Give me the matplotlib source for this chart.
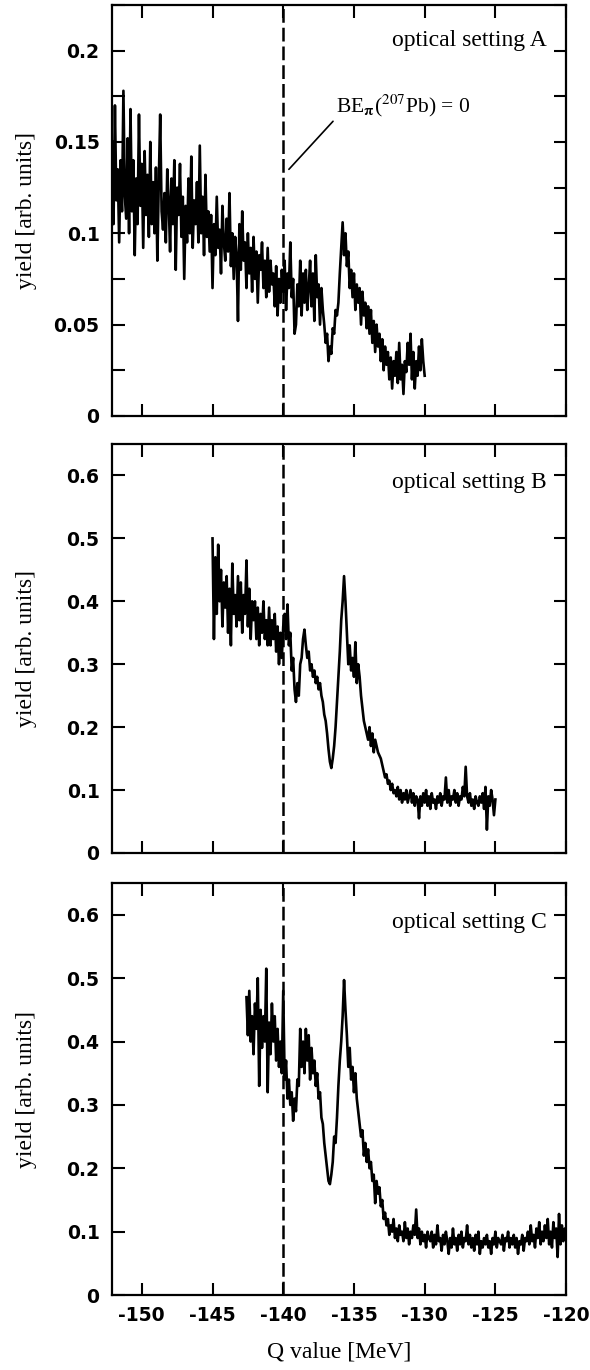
import numpy as np
import matplotlib.pyplot as plt
from matplotlib.ticker import MultipleLocator, FormatStrFormatter

# binned spectra, Q value step 0.1 MeV
q_step = 0.1

q_start_a = -152.1
yield_a = [
    0.150, 0.105, 0.170, 0.118, 0.135, 0.095, 0.140, 0.112, 0.178, 0.120,
    0.108, 0.152, 0.100, 0.168, 0.112, 0.140, 0.088, 0.130, 0.105, 0.165,
    0.115, 0.138, 0.092, 0.145, 0.110, 0.132, 0.098, 0.150, 0.105, 0.128,
    0.100, 0.136, 0.085, 0.128, 0.165, 0.112, 0.102, 0.122, 0.095, 0.135,
    0.118, 0.090, 0.130, 0.105, 0.140, 0.080, 0.125, 0.110, 0.138, 0.098,
    0.120, 0.075, 0.115, 0.095, 0.130, 0.100, 0.142, 0.092, 0.118, 0.105,
    0.128, 0.095, 0.148, 0.100, 0.120, 0.088, 0.132, 0.098, 0.112, 0.090,
    0.110, 0.070, 0.105, 0.088, 0.120, 0.092, 0.102, 0.078, 0.115, 0.095,
    0.085, 0.108, 0.090, 0.122, 0.082, 0.100, 0.075, 0.098, 0.088, 0.052,
    0.105, 0.080, 0.112, 0.085, 0.095, 0.070, 0.100, 0.078, 0.092, 0.068,
    0.098, 0.075, 0.090, 0.062, 0.088, 0.080, 0.095, 0.070, 0.085, 0.065,
    0.092, 0.068, 0.085, 0.072, 0.078, 0.060, 0.082, 0.055, 0.075, 0.062,
    0.080, 0.068, 0.085, 0.058, 0.078, 0.070, 0.095, 0.065, 0.075, 0.045,
    0.050, 0.072, 0.060, 0.085, 0.055, 0.078, 0.062, 0.080, 0.058, 0.070,
    0.085, 0.060, 0.078, 0.052, 0.088, 0.065, 0.072, 0.050, 0.070, 0.058,
    0.050, 0.040, 0.045, 0.030, 0.038, 0.034, 0.048, 0.045, 0.058, 0.055,
    0.062, 0.078, 0.092, 0.106, 0.088, 0.100, 0.082, 0.090, 0.070, 0.080,
    0.065, 0.078, 0.058, 0.072, 0.062, 0.070, 0.050, 0.068, 0.055, 0.062,
    0.048, 0.060, 0.045, 0.058, 0.040, 0.052, 0.035, 0.050, 0.038, 0.045,
    0.030, 0.042, 0.025, 0.038, 0.028, 0.035, 0.020, 0.032, 0.015, 0.030,
    0.022, 0.035, 0.018, 0.040, 0.020, 0.028, 0.012, 0.030, 0.024, 0.040,
    0.028, 0.045, 0.020, 0.035, 0.015, 0.030, 0.022, 0.038, 0.025, 0.042,
    0.030, 0.022,
]

q_start_b = -145.0
yield_b = [
    0.50, 0.34, 0.47, 0.38, 0.49, 0.40, 0.45, 0.36, 0.43, 0.39,
    0.44, 0.35, 0.42, 0.33, 0.46, 0.38, 0.41, 0.36, 0.44, 0.37,
    0.43, 0.35, 0.41, 0.38, 0.465, 0.36, 0.42, 0.34, 0.40, 0.37,
    0.40, 0.34, 0.39, 0.33, 0.38, 0.35, 0.40, 0.34, 0.37, 0.33,
    0.39, 0.33, 0.37, 0.34, 0.38, 0.32, 0.36, 0.30, 0.35, 0.31,
    0.36, 0.38, 0.34, 0.395, 0.33, 0.35, 0.29, 0.31, 0.26, 0.24,
    0.27, 0.25, 0.30, 0.31, 0.34, 0.355, 0.33, 0.31, 0.32, 0.29,
    0.30, 0.28, 0.29, 0.27, 0.28, 0.26, 0.27, 0.25, 0.24, 0.22,
    0.21, 0.19, 0.165, 0.145, 0.135, 0.15, 0.17, 0.20, 0.24, 0.28,
    0.32, 0.37, 0.40, 0.44, 0.40, 0.35, 0.30, 0.33, 0.29, 0.31,
    0.28, 0.335, 0.27, 0.30, 0.28, 0.25, 0.23, 0.21, 0.20, 0.19,
    0.18, 0.20, 0.17, 0.19, 0.16, 0.18, 0.17, 0.16, 0.155, 0.15,
    0.14, 0.13, 0.12, 0.125, 0.11, 0.115, 0.10, 0.11, 0.095, 0.10,
    0.09, 0.105, 0.085, 0.10, 0.08, 0.095, 0.085, 0.10, 0.08, 0.09,
    0.10, 0.08, 0.095, 0.075, 0.09, 0.085, 0.055, 0.09, 0.075, 0.095,
    0.08, 0.10, 0.075, 0.09, 0.07, 0.095, 0.08, 0.085, 0.07, 0.09,
    0.08, 0.095, 0.075, 0.09, 0.085, 0.12, 0.08, 0.10, 0.075, 0.09,
    0.085, 0.10, 0.08, 0.095, 0.075, 0.09, 0.085, 0.105, 0.09, 0.137,
    0.09, 0.08, 0.095, 0.075, 0.085, 0.07, 0.09, 0.08, 0.075, 0.09,
    0.08, 0.095, 0.07, 0.105, 0.037, 0.09, 0.075, 0.10, 0.085, 0.06,
    0.085,
]

q_start_c = -142.6
yield_c = [
    0.47, 0.41, 0.48, 0.40, 0.44, 0.38, 0.46, 0.42, 0.50, 0.33,
    0.45, 0.39, 0.44, 0.40, 0.515, 0.32, 0.43, 0.38, 0.46, 0.40,
    0.44, 0.37, 0.42, 0.36, 0.40, 0.35, 0.48, 0.34, 0.37, 0.31,
    0.34, 0.30, 0.32, 0.275, 0.31, 0.29, 0.34, 0.33, 0.42, 0.36,
    0.40, 0.35, 0.42, 0.37, 0.41, 0.34, 0.39, 0.35, 0.37, 0.33,
    0.35, 0.31, 0.32, 0.28, 0.27, 0.24, 0.22, 0.20, 0.18, 0.175,
    0.19, 0.21, 0.25, 0.24, 0.28, 0.33, 0.37, 0.40, 0.44, 0.497,
    0.45, 0.41, 0.36, 0.39, 0.34, 0.36, 0.32, 0.35, 0.31, 0.29,
    0.27, 0.25, 0.26, 0.22, 0.24, 0.21, 0.23, 0.20, 0.21, 0.18,
    0.19, 0.145, 0.18, 0.16, 0.17, 0.14, 0.15, 0.12, 0.13, 0.11,
    0.12, 0.095, 0.11, 0.10, 0.12, 0.09, 0.105, 0.085, 0.11, 0.095,
    0.10, 0.085, 0.115, 0.09, 0.105, 0.08, 0.10, 0.09, 0.11, 0.095,
    0.135, 0.09, 0.105, 0.08, 0.10, 0.085, 0.095, 0.075, 0.10, 0.09,
    0.085, 0.10, 0.075, 0.095, 0.08, 0.11, 0.085, 0.09, 0.07, 0.095,
    0.08, 0.10, 0.085, 0.065, 0.09, 0.075, 0.105, 0.08, 0.09, 0.07,
    0.095, 0.08, 0.10, 0.075, 0.09, 0.085, 0.11, 0.08, 0.095, 0.075,
    0.09, 0.07, 0.095, 0.08, 0.10, 0.065, 0.085, 0.075, 0.09, 0.08,
    0.095, 0.075, 0.085, 0.065, 0.09, 0.08, 0.10, 0.075, 0.09, 0.085,
    0.08, 0.095, 0.07, 0.09, 0.085, 0.10, 0.075, 0.09, 0.08, 0.095,
    0.075, 0.09, 0.065, 0.085, 0.08, 0.095, 0.07, 0.09, 0.085, 0.10,
    0.08, 0.11, 0.085, 0.095, 0.075, 0.105, 0.09, 0.115, 0.08, 0.10,
    0.085, 0.11, 0.09, 0.12, 0.08, 0.10, 0.075, 0.115, 0.09, 0.105,
    0.06, 0.128, 0.08, 0.11, 0.085, 0.105, 0.09,
]

panels = [
    ("optical setting A", q_start_a, yield_a, 0.225, 0.025),
    ("optical setting B", q_start_b, yield_b, 0.65, 0.1),
    ("optical setting C", q_start_c, yield_c, 0.65, 0.1),
]
threshold = -140.0

plt.rcParams['axes.unicode_minus'] = False
plt.rcParams['mathtext.fontset'] = 'stix'
serif = 'Liberation Serif'
tickfont = dict(family='DejaVu Sans', weight='bold', size=13.5)


def ylabel_fmt(v, pos):
    # panel A has ticks every 0.025 but labels only every 0.05
    if abs(v / 0.05 - round(v / 0.05)) > 1e-6:
        return ''
    return '%g' % round(v, 3)


fig = plt.figure(figsize=(5.9, 13.7), dpi=100)
bottoms = [0.6964, 0.3774, 0.0547]
heights = [0.300, 0.2985, 0.3007]

for i, (name, q0, y, ymax, ystep) in enumerate(panels):
    ax = fig.add_axes([0.19, bottoms[i], 0.7695, heights[i]])
    q = q0 + q_step * np.arange(len(y))
    ax.plot(q, y, color='black', lw=1.9)
    ax.axvline(threshold, color='black', lw=1.8, linestyle=(0, (5.5, 2)))

    ax.set_xlim(-152.1, -120)
    ax.set_ylim(0, ymax)
    ax.xaxis.set_major_locator(MultipleLocator(5))
    ax.yaxis.set_major_locator(MultipleLocator(ystep))
    ax.yaxis.set_major_formatter(plt.FuncFormatter(ylabel_fmt))

    ax.tick_params(direction='in', length=9, width=1.5, top=True, right=True)
    ax.tick_params(axis='y', pad=9)
    ax.tick_params(axis='x', pad=8)
    for s in ax.spines.values():
        s.set_linewidth(1.6)

    if i < 2:
        ax.tick_params(labelbottom=False)
    else:
        ax.xaxis.set_major_formatter(FormatStrFormatter('%d'))
        ax.set_xlabel("Q value [MeV]", family=serif, fontsize=17, labelpad=12)
    for lab in ax.get_xticklabels() + ax.get_yticklabels():
        lab.set_fontproperties(tickfont)

    ax.set_ylabel("yield [arb. units]", family=serif, fontsize=17)
    ax.yaxis.set_label_coords(-0.165, 0.5)
    ax.text(0.957, 0.913 if i == 0 else 0.905, name, transform=ax.transAxes,
            ha='right', va='center', family=serif, fontsize=17)

    if i == 0:
        ax.annotate(r"BE$_{\mathbf{\pi}}$($^{207}$Pb) = 0",
                    xy=(-139.6, 0.135), xytext=(-136.3, 0.170),
                    family=serif, fontsize=15.5, va='center', ha='left',
                    arrowprops=dict(arrowstyle='-', color='black', lw=1.2,
                                    shrinkA=0, shrinkB=0,
                                    relpos=(0.0, 0.0)))

fig.savefig("out.png", dpi=100)
